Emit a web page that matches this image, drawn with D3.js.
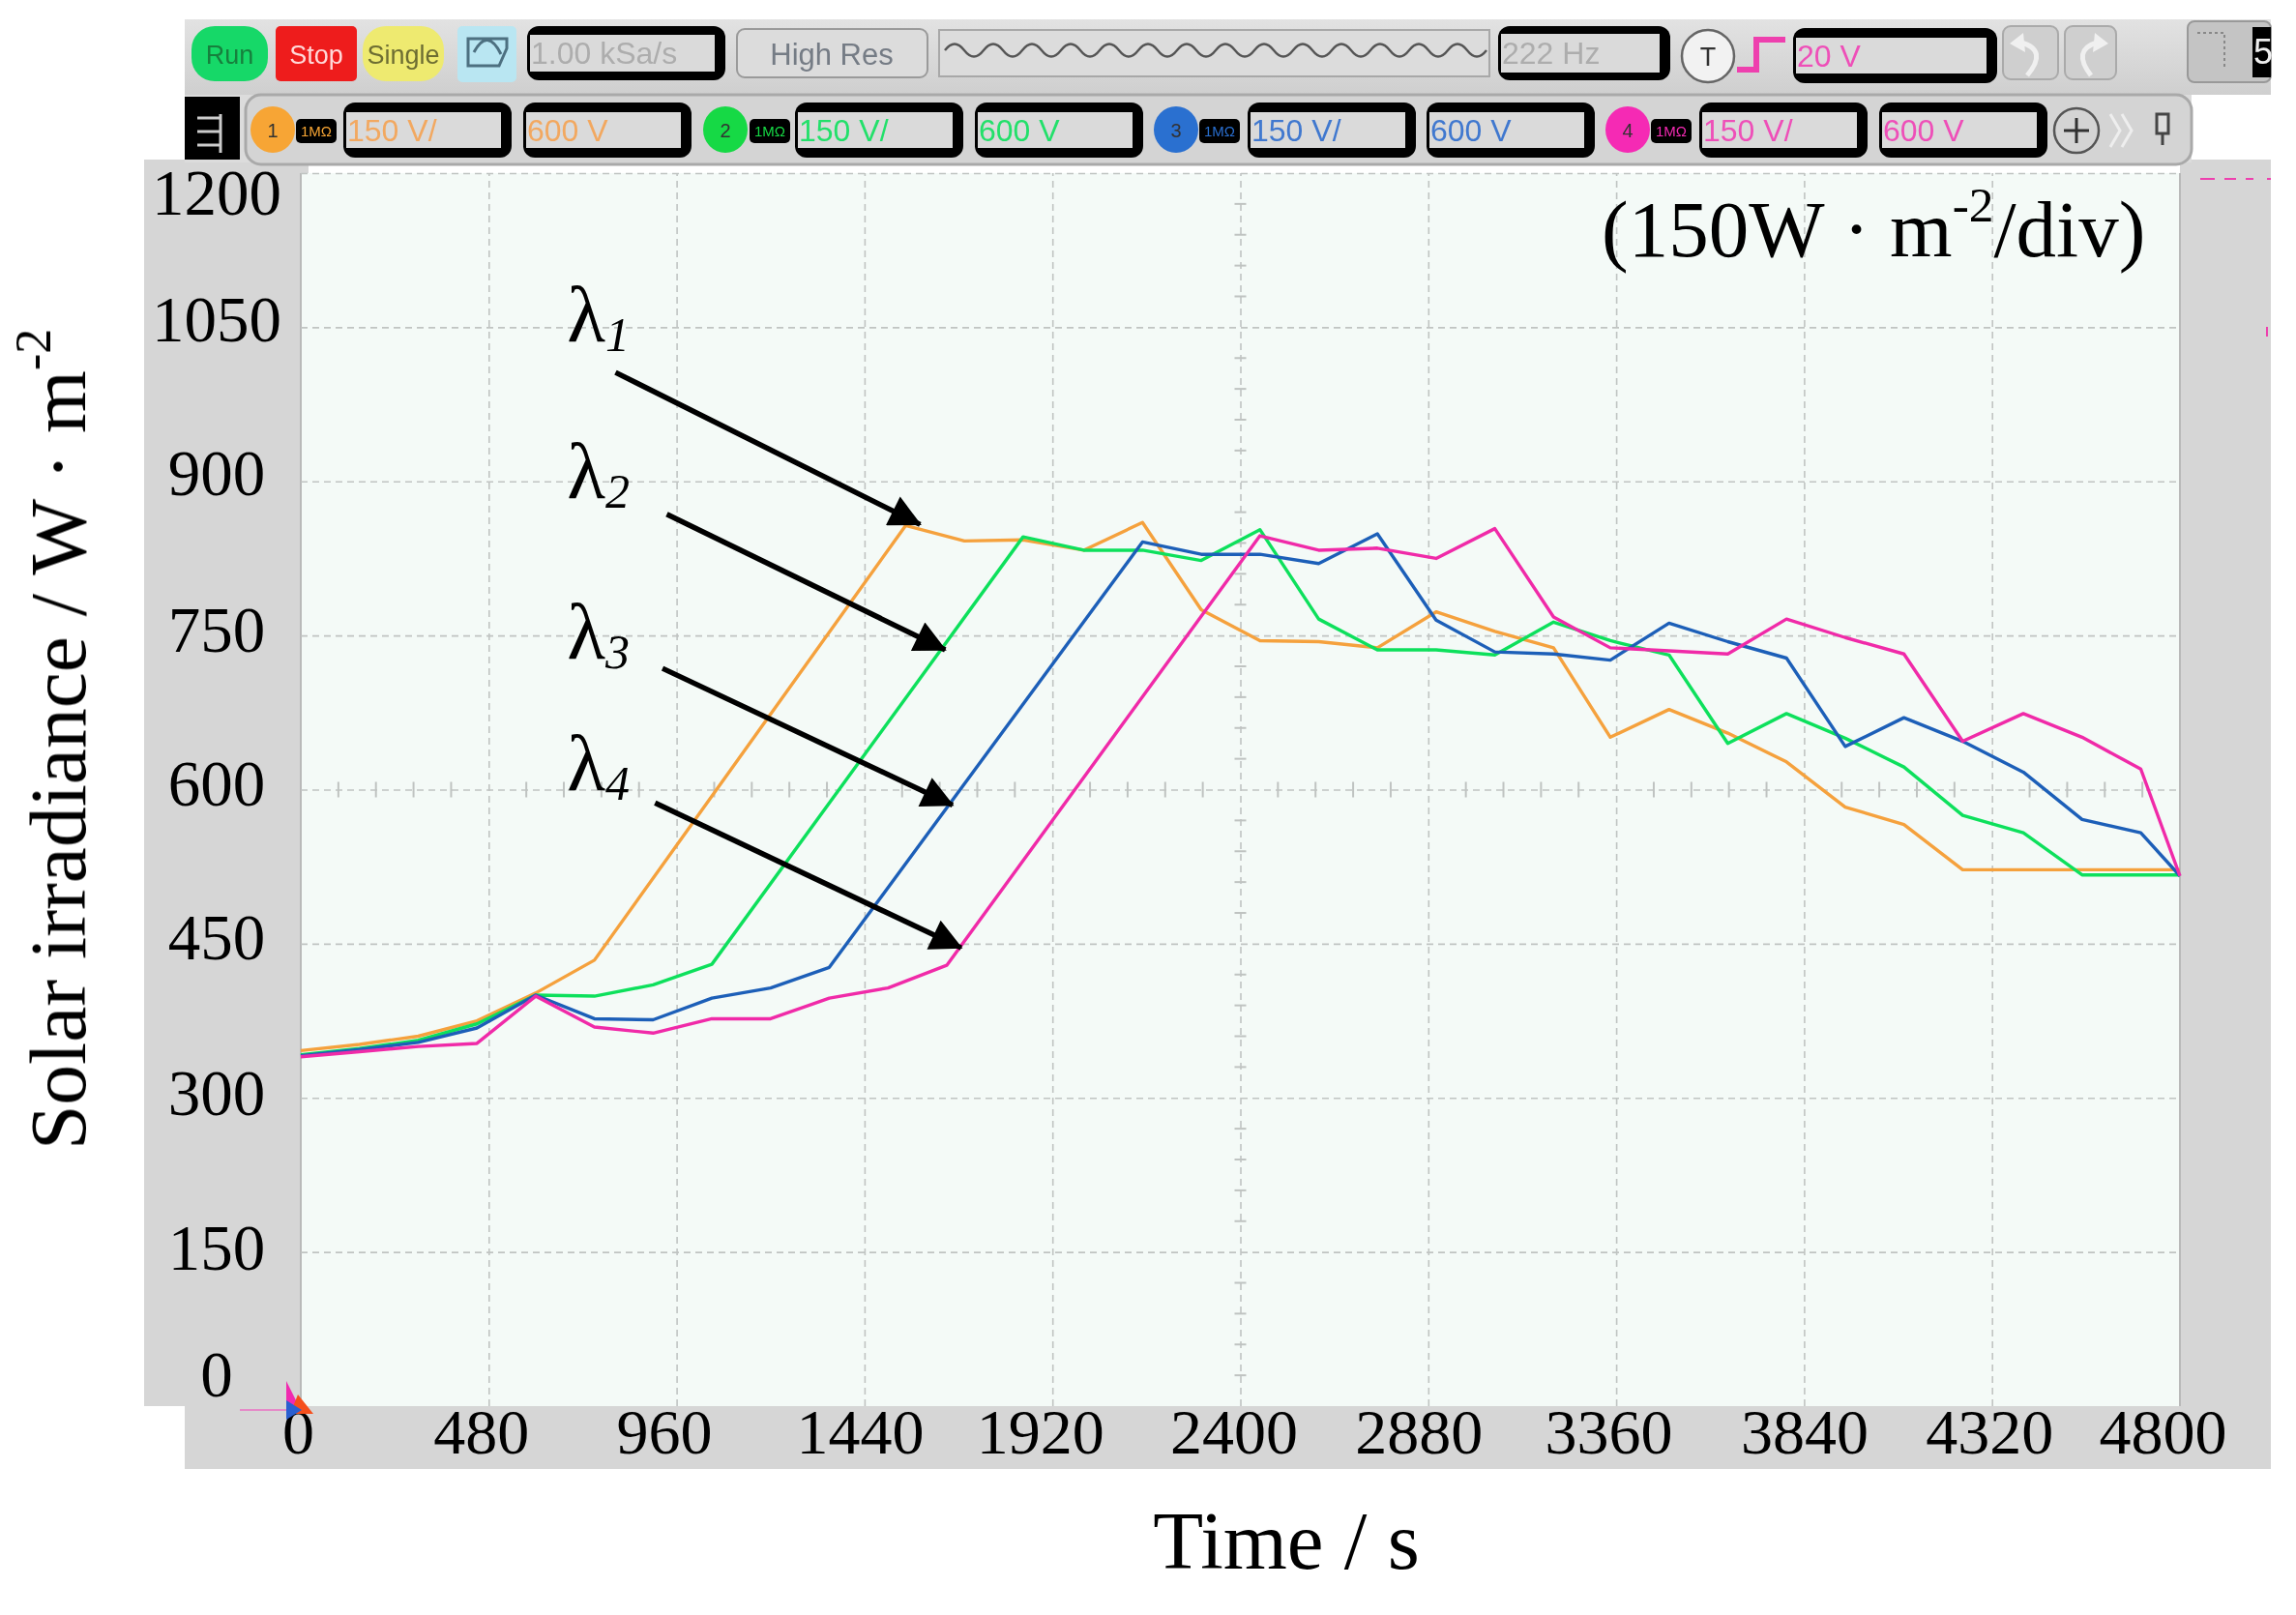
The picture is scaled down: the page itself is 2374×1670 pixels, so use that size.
<!DOCTYPE html>
<html>
<head>
<meta charset="utf-8">
<style>
  html, body { margin: 0; padding: 0; background: #fff; }
  svg { display: block; }
  .serif { font-family: 'Liberation Serif', serif; fill: #000; }
  .ui { font-family: 'Liberation Sans', sans-serif; }
</style>
<script src="https://cdn.jsdelivr.net/npm/d3@7/dist/d3.min.js"></script>
</head>
<body>
<div id="chart"></div>
<script>
// ── Data ──────────────────────────────────────────────
const xTicks = [0, 480, 960, 1440, 1920, 2400, 2880, 3360, 3840, 4320, 4800];
const yTicks = [0, 150, 300, 450, 600, 750, 900, 1050, 1200];

const orangeT = [0, 150, 300, 450, 600, 750, 1545, 1695, 1845, 2000, 2150, 2300, 2450, 2600, 2750, 2900, 3050, 3200, 3345, 3495, 3645, 3795, 3945, 4095, 4245, 4800];
const orangeV = [346, 352, 360, 375, 402, 434, 857, 842, 843, 833, 860, 775, 745, 744, 738, 773, 754, 738, 651, 678, 655, 627, 583, 566, 522, 522];

const greenT = [0, 150, 300, 450, 600, 750, 900, 1050, 1845, 2000, 2150, 2300, 2450, 2600, 2750, 2900, 3050, 3200, 3345, 3495, 3645, 3795, 3945, 4095, 4245, 4400, 4550, 4800];
const greenV = [342, 348, 356, 372, 400, 399, 410, 430, 846, 833, 833, 823, 853, 766, 736, 736, 731, 763, 745, 731, 645, 674, 650, 622, 575, 558, 517, 517];

const blueT = [0, 150, 300, 450, 600, 750, 900, 1050, 1200, 1350, 2150, 2300, 2450, 2600, 2750, 2900, 3050, 3200, 3345, 3495, 3645, 3795, 3945, 4095, 4245, 4400, 4550, 4700, 4800];
const blueV = [341, 347, 354, 368, 400, 377, 376, 397, 407, 427, 841, 829, 829, 820, 849, 765, 734, 732, 726, 762, 744, 728, 642, 670, 647, 617, 571, 558, 516];

const pinkT = [0, 150, 300, 450, 600, 750, 900, 1050, 1200, 1350, 1500, 1650, 2450, 2600, 2750, 2900, 3050, 3200, 3345, 3495, 3645, 3795, 3945, 4095, 4245, 4400, 4550, 4700, 4800];
const pinkV = [340, 345, 350, 353, 399, 369, 363, 377, 377, 397, 407, 429, 847, 833, 835, 825, 854, 768, 738, 735, 732, 766, 748, 732, 647, 674, 651, 620, 516];

const seriesNames = ['λ1', 'λ2', 'λ3', 'λ4'];
const seriesColors = ['#f5a13c', '#0fe05c', '#1f5fb8', '#f02aa8'];
const seriesT = [orangeT, greenT, blueT, pinkT];
const seriesV = [orangeV, greenV, blueV, pinkV];

// arrows and their labels, in chart units
const arrowFromT = [804, 935, 924, 905];
const arrowFromV = [1006, 868, 718, 587];
const arrowToT = [1582, 1646, 1665, 1687];
const arrowToV = [858, 736, 585, 446];
const lambdaT = [680, 680, 680, 680];
const lambdaV = [1036, 884, 728, 600];

// scope toolbar texts
const channelNos = ['1', '2', '3', '4'];
const channelScale = ['150 V/', '150 V/', '150 V/', '150 V/'];
const channelOffset = ['600 V', '600 V', '600 V', '600 V'];
const channelFill = ['#f7a534', '#16d944', '#2a6fd0', '#f52bb4'];
const channelText = ['#f2a860', '#22e06a', '#3f78cf', '#ee4fb8'];

// ── Layout ────────────────────────────────────────────
const W = 2374, H = 1670;
const M = { left: 311, right: 2254, top: 179, bottom: 1454 };
const GRAY = '#d6d6d6';

const x = d3.scaleLinear().domain([0, 4800]).range([M.left, M.right]);
const y = d3.scaleLinear().domain([0, 1200]).range([M.bottom, M.top]);

const svg = d3.select('#chart').append('svg').attr('width', W).attr('height', H).attr('viewBox', `0 0 ${W} ${H}`);
const defs = svg.append('defs');
defs.append('filter').attr('id', 'soft').append('feGaussianBlur').attr('stdDeviation', 0.6);
defs.append('marker').attr('id', 'head').attr('viewBox', '0 0 10 10').attr('refX', 9.5).attr('refY', 5)
     .attr('markerWidth', 8).attr('markerHeight', 6).attr('orient', 'auto')
     .append('path').attr('d', 'M0,0L10,5L0,10Z').attr('fill', '#000');

const root = svg.append('g').attr('filter', 'url(#soft)');

// ── Gray panels behind the plot ───────────────────────
root.append('rect').attr('x', 149).attr('y', 165).attr('width', 170).attr('height', M.bottom - 165).attr('fill', GRAY);
root.append('rect').attr('x', 191).attr('y', M.bottom).attr('width', 2348 - 191).attr('height', 65).attr('fill', GRAY);
root.append('rect').attr('x', M.right).attr('y', 165).attr('width', 2348 - M.right).attr('height', M.bottom - 165).attr('fill', GRAY);
root.append('rect').attr('x', M.left).attr('y', M.top).attr('width', M.right - M.left).attr('height', M.bottom - M.top).attr('fill', '#f4faf7');
root.append('path').attr('d', `M${M.left},${M.top}V${M.bottom}M${M.right},${M.top}V${M.bottom}`).attr('stroke', '#b9b9b9').attr('stroke-width', 2);

// ── Grid ──────────────────────────────────────────────
const gridX = root.append('g').attr('transform', `translate(0,${M.bottom})`)
     .call(d3.axisBottom(x).tickValues(xTicks.slice(1, -1)).tickSize(-(M.bottom - M.top)).tickFormat(''));
const gridY = root.append('g').attr('transform', `translate(${M.left},0)`)
     .call(d3.axisLeft(y).tickValues(yTicks.slice(1)).tickSize(-(M.right - M.left)).tickFormat(''));
[gridX, gridY].forEach(g => {
     g.select('.domain').remove();
     g.selectAll('line').attr('stroke', '#c0c4c2').attr('stroke-width', 1.6).attr('stroke-dasharray', '7 5');
});

// centre lines carry the small scope ticks
const minorX = d3.range(0, 4800, 96).filter(v => v % 480 !== 0);
const minorY = d3.range(0, 1200, 30).filter(v => v % 150 !== 0);
root.append('g').selectAll('line').data(minorX).join('line')
     .attr('x1', d => x(d)).attr('x2', d => x(d)).attr('y1', y(600) - 8).attr('y2', y(600) + 8)
     .attr('stroke', '#bfc3c1').attr('stroke-width', 2);
root.append('g').selectAll('line').data(minorY).join('line')
     .attr('x1', x(2400) - 6).attr('x2', x(2400) + 6).attr('y1', d => y(d)).attr('y2', d => y(d))
     .attr('stroke', '#bfc3c1').attr('stroke-width', 2);

// ── Traces ────────────────────────────────────────────
const line = d3.line().x(d => x(d[0])).y(d => y(d[1]));
root.append('g').selectAll('path').data(seriesNames).join('path')
     .attr('d', (_, i) => line(d3.zip(seriesT[i], seriesV[i])))
     .attr('fill', 'none').attr('stroke', (_, i) => seriesColors[i]).attr('stroke-width', 3.4).attr('stroke-linejoin', 'round');

// ── Arrows and lambda labels ──────────────────────────
root.append('g').selectAll('line').data(seriesNames).join('line')
     .attr('x1', (_, i) => x(arrowFromT[i])).attr('y1', (_, i) => y(arrowFromV[i]))
     .attr('x2', (_, i) => x(arrowToT[i])).attr('y2', (_, i) => y(arrowToV[i]))
     .attr('stroke', '#000').attr('stroke-width', 5.5).attr('marker-end', 'url(#head)');

const lam = root.append('g').selectAll('text').data(seriesNames).join('text')
     .attr('class', 'serif').attr('x', (_, i) => x(lambdaT[i])).attr('y', (_, i) => y(lambdaV[i])).attr('font-size', 82);
lam.append('tspan').text(d => d[0]);
lam.append('tspan').attr('font-size', 50).attr('font-style', 'italic').attr('dy', 10).text(d => d[1]);

// ── Tick labels ───────────────────────────────────────
// the labels sit a little off their ticks in the original
const yNudge = { 1200: 4, 1050: -6, 900: -6, 750: -4, 600: -4, 450: -4, 300: -3, 150: -2, 0: -11 };
const xNudge = { 0: 5, 480: 0, 960: -5, 1440: 3, 1920: -5, 2400: 1, 2880: -2, 3360: 0, 3840: 8, 4320: 5, 4800: -10 };

const axisL = root.append('g').attr('transform', `translate(${M.left},0)`)
     .call(d3.axisLeft(y).tickValues(yTicks).tickSize(0).tickFormat(d3.format('d')));
axisL.select('.domain').remove();
axisL.selectAll('text').attr('class', 'serif').attr('font-size', 67).attr('text-anchor', 'middle')
     .attr('x', 224 - M.left)
     .attr('dy', d => (d === 1200 ? 38 : d === 0 ? 0 : 20) + yNudge[d]);

const axisB = root.append('g').attr('transform', `translate(0,${M.bottom})`)
     .call(d3.axisBottom(x).tickValues(xTicks).tickSize(0).tickPadding(2).tickFormat(d3.format('d')));
axisB.select('.domain').remove();
axisB.selectAll('text').attr('class', 'serif').attr('font-size', 66).attr('dx', d => -8 + xNudge[d]);

// ── Titles ────────────────────────────────────────────
const sup = (sel, parts) => parts.forEach(([t, up]) => {
     const ts = sel.append('tspan').text(t);
     if (up) ts.attr('font-size', '0.62em').attr('dy', '-0.7em');
     else if (sel.selectAll('tspan').size() > 1) ts.attr('dy', '0.44em');
});

sup(root.append('text').attr('class', 'serif').attr('font-size', 83.5)
     .attr('transform', `translate(88,${(336 + 1189) / 2 + 2}) rotate(-90)`).attr('text-anchor', 'middle'),
     [['Solar irradiance / W · m', false], ['-2', true]]);
sup(root.append('text').attr('class', 'serif').attr('font-size', 83)
     .attr('x', 1656).attr('y', 265),
     [['(150W · m', false], ['-2', true], ['/div)', false]]);
root.append('text').attr('class', 'serif').attr('font-size', 85).attr('text-anchor', 'middle')
     .attr('x', 1330).attr('y', 1622).text('Time / s');

// ── Bits the scope draws around the plot ──────────────
root.append('path').attr('d', 'M296,1428L296,1462L313,1462Z').attr('fill', '#f02ab0');
root.append('path').attr('d', 'M308,1442L300,1462L324,1462Z').attr('fill', '#f5501e');
root.append('path').attr('d', 'M296,1448L296,1468L312,1458Z').attr('fill', '#2a5fd0');
root.append('line').attr('x1', 248).attr('x2', 296).attr('y1', 1458).attr('y2', 1458).attr('stroke', '#e58ac8').attr('stroke-width', 2);
root.append('path').attr('d', 'M2275,185H2290M2300,185H2312M2322,185H2330M2344,185H2348').attr('stroke', '#ee3fae').attr('stroke-width', 2);
root.append('path').attr('d', 'M2344,338V348').attr('stroke', '#ee3fae').attr('stroke-width', 2);

// ── Toolbar ───────────────────────────────────────────
const bar = root.append('g').attr('class', 'ui');
const lg = defs.append('linearGradient').attr('id', 'barg').attr('x1', 0).attr('x2', 0).attr('y1', 0).attr('y2', 1);
lg.append('stop').attr('offset', 0).attr('stop-color', '#e2e2e2');
lg.append('stop').attr('offset', 1).attr('stop-color', '#cfcfcf');

bar.append('rect').attr('x', 191).attr('y', 20).attr('width', 2157).attr('height', 78).attr('fill', 'url(#barg)');
bar.append('rect').attr('x', 191).attr('y', 98).attr('width', 2075).attr('height', 70).attr('fill', '#dcdcdc');
bar.append('rect').attr('x', 254).attr('y', 98).attr('width', 2012).attr('height', 72).attr('rx', 16)
     .attr('fill', '#d4d4d4').attr('stroke', '#a9a9a9').attr('stroke-width', 3);

function field(bx, by, bw, bh, label, color, inset) {
     bar.append('rect').attr('x', bx).attr('y', by).attr('width', bw).attr('height', bh).attr('rx', 12).attr('fill', '#000');
     bar.append('rect').attr('x', bx + 3).attr('y', by + inset).attr('width', bw - 14).attr('height', bh - 2 * inset).attr('fill', '#dadada');
     bar.append('text').attr('x', bx + 4).attr('y', by + bh / 2 + 11).attr('font-size', 32).attr('fill', color).text(label);
}

function button(bx, by, bw, bh, fill, label, color, r) {
     bar.append('rect').attr('x', bx).attr('y', by).attr('width', bw).attr('height', bh).attr('rx', r).attr('fill', fill);
     bar.append('text').attr('x', bx + bw / 2).attr('y', by + bh / 2 + 10).attr('text-anchor', 'middle')
          .attr('font-size', 27).attr('fill', color).text(label);
}

button(198, 27, 79, 57, '#19d868', 'Run', '#15803d', 24);
button(285, 27, 84, 57, '#ee1a1a', 'Stop', '#ffd9d9', 5);
button(375, 27, 84, 57, '#eeea70', 'Single', '#6d6d32', 24);

bar.append('rect').attr('x', 473).attr('y', 27).attr('width', 61).attr('height', 58).attr('rx', 5).attr('fill', '#b9e6f2');
bar.append('path').attr('d', 'M484,68V40H524V50L516,68ZM490,54Q504,28 518,56').attr('fill', 'none').attr('stroke', '#4d6f80').attr('stroke-width', 3);

field(545, 27, 205, 56, '1.00 kSa/s', '#adadad', 9);

bar.append('rect').attr('x', 762).attr('y', 30).attr('width', 197).attr('height', 50).attr('rx', 8).attr('fill', '#dcdcdc').attr('stroke', '#9a9a9a').attr('stroke-width', 2);
bar.append('text').attr('x', 860).attr('y', 67).attr('text-anchor', 'middle').attr('font-size', 31).attr('fill', '#757b85').text('High Res');

bar.append('rect').attr('x', 971).attr('y', 31).attr('width', 569).attr('height', 48).attr('fill', '#dcdcdc').attr('stroke', '#a8a8a8').attr('stroke-width', 2);
let wave = 'M977,52';
for (let i = 0; i < 14; i++) wave += 'q10,-13 20,0t20,0';
bar.append('path').attr('d', wave).attr('fill', 'none').attr('stroke', '#555').attr('stroke-width', 2.4);

field(1549, 27, 178, 56, '222 Hz', '#adadad', 8);

bar.append('circle').attr('cx', 1766).attr('cy', 58).attr('r', 27).attr('fill', '#f2f2f2').attr('stroke', '#666').attr('stroke-width', 2.5);
bar.append('text').attr('x', 1766).attr('y', 68).attr('text-anchor', 'middle').attr('font-size', 27).attr('fill', '#333').text('T');
bar.append('path').attr('d', 'M1796,72H1816V41H1846').attr('fill', 'none').attr('stroke', '#ee3fae').attr('stroke-width', 6);
field(1854, 29, 211, 57, '20 V', '#ee4fb8', 10);

bar.append('rect').attr('x', 2071).attr('y', 27).attr('width', 57).attr('height', 55).attr('rx', 8).attr('fill', '#cfcfcf').attr('stroke', '#aaa').attr('stroke-width', 2);
bar.append('rect').attr('x', 2135).attr('y', 27).attr('width', 53).attr('height', 55).attr('rx', 8).attr('fill', '#cfcfcf').attr('stroke', '#aaa').attr('stroke-width', 2);
bar.append('path').attr('d', 'M2090,44Q2118,52 2096,78M2168,44Q2142,52 2162,78').attr('fill', 'none').attr('stroke', '#f0f0f0').attr('stroke-width', 5);
bar.append('path').attr('d', 'M2092,34L2078,45L2094,54ZM2166,34L2180,45L2164,54Z').attr('fill', '#f0f0f0');

bar.append('rect').attr('x', 2262).attr('y', 22).attr('width', 86).attr('height', 63).attr('rx', 7).attr('fill', '#c4c4c4').attr('stroke', '#999').attr('stroke-width', 2);
bar.append('path').attr('d', 'M2272,34H2300V72').attr('fill', 'none').attr('stroke', '#888').attr('stroke-width', 2).attr('stroke-dasharray', '3 3');
bar.append('rect').attr('x', 2329).attr('y', 28).attr('width', 19).attr('height', 52).attr('fill', '#000');
bar.append('text').attr('x', 2330).attr('y', 66).attr('font-size', 36).attr('fill', '#eee').text('5');

// ruler block at the start of the channel row
bar.append('rect').attr('x', 191).attr('y', 100).attr('width', 57).attr('height', 65).attr('fill', '#000');
bar.append('path').attr('d', 'M204,122H228M204,136H228M204,150H228M228,118V158').attr('stroke', '#ccc').attr('stroke-width', 3);

const circleX = [282, 750, 1216, 1683];
const badgeX = [306, 775, 1240, 1707];
const scaleX = [355, 822, 1290, 1757];
const offsetX = [541, 1008, 1475, 1943];
channelNos.forEach((n, i) => {
     bar.append('ellipse').attr('cx', circleX[i]).attr('cy', 134).attr('rx', 23).attr('ry', 24).attr('fill', channelFill[i]);
     bar.append('text').attr('x', circleX[i]).attr('y', 142).attr('text-anchor', 'middle').attr('font-size', 20).attr('fill', '#333').text(n);
     bar.append('rect').attr('x', badgeX[i]).attr('y', 123).attr('width', 42).attr('height', 25).attr('rx', 5).attr('fill', '#000');
     bar.append('text').attr('x', badgeX[i] + 21).attr('y', 141).attr('text-anchor', 'middle').attr('font-size', 15).attr('fill', channelFill[i]).text('1MΩ');
     field(scaleX[i], 106, 174, 57, channelScale[i], channelText[i], 10);
     field(offsetX[i], 106, 174, 57, channelOffset[i], channelText[i], 10);
});

bar.append('circle').attr('cx', 2147).attr('cy', 135).attr('r', 23).attr('fill', 'none').attr('stroke', '#555').attr('stroke-width', 2.5);
bar.append('path').attr('d', 'M2134,135H2160M2147,122V148').attr('stroke', '#333').attr('stroke-width', 3);
bar.append('path').attr('d', 'M2182,118L2192,135L2182,152M2194,118L2204,135L2194,152').attr('fill', 'none').attr('stroke', '#eee').attr('stroke-width', 3);
bar.append('path').attr('d', 'M2230,118H2242V138H2230ZM2236,138V150').attr('fill', '#ddd').attr('stroke', '#444').attr('stroke-width', 3);
</script>
</body>
</html>
